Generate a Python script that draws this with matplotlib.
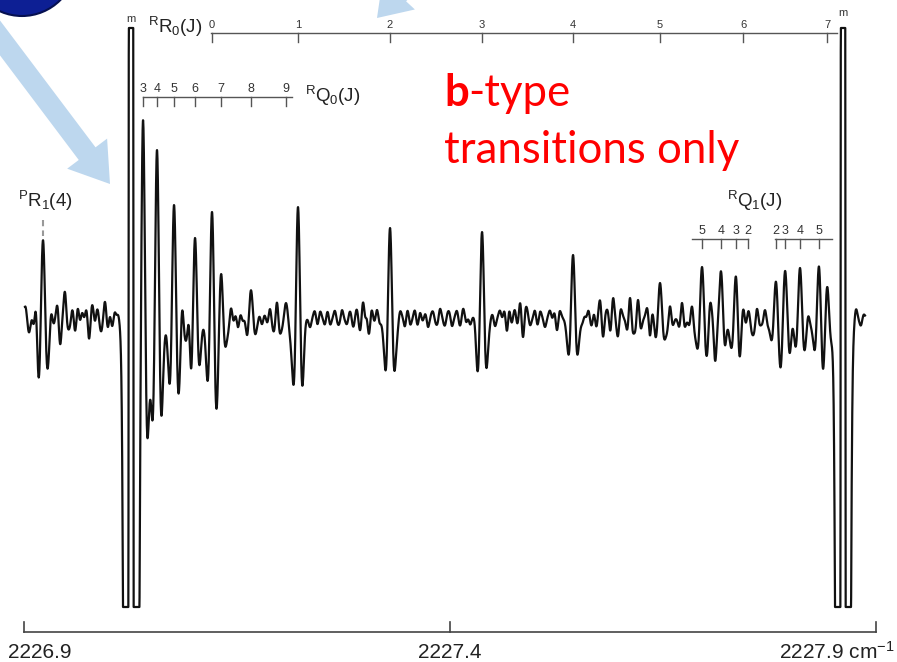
import numpy as np
import matplotlib
matplotlib.use("Agg")
import matplotlib.pyplot as plt
from matplotlib.patches import Polygon, Ellipse

plt.rcParams['font.family'] = ['Liberation Sans', 'DejaVu Sans']
plt.rcParams['mathtext.fontset'] = 'custom'
plt.rcParams['mathtext.rm'] = 'Liberation Sans'
plt.rcParams['mathtext.it'] = 'Liberation Sans:italic'

# ---------------- data (wavenumber in cm^-1, intensity in arb. units) ----------------
pr1_pos = [2226.9223]
pr1_amp = [78]

rq0_J = [3, 4, 5, 6, 7, 8, 9]
rq0_pos = [2227.0397, 2227.0561, 2227.0761, 2227.1007, 2227.1312, 2227.1664, 2227.2075]
rq0_amp = [200, 168, 113, 81, 48, 28, 15]

rr0_J = [0, 1, 2, 3, 4, 5, 6, 7]
rr0_pos = [2227.1207, 2227.2216, 2227.3296, 2227.4376, 2227.5444, 2227.6465, 2227.7439, 2227.8425]
rr0_amp = [108, 111, 90, 86, 63, 35, 31, 36]

rq1a_J = [5, 4, 3, 2]
rq1a_pos = [2227.6958, 2227.7181, 2227.7357, 2227.7498]
rq1a_amp = [51, 46, 48, 23]

rq1b_J = [2, 3, 4, 5]
rq1b_pos = [2227.7826, 2227.7932, 2227.8108, 2227.8331]
rq1b_amp = [38, 47, 50, 55]

# saturated lines marked "m"
m_pos = [2227.0256, 2227.8613]
m_amp = [3000, 3000]

# weaker unassigned features / baseline structure
minor_pos = [2226.9012, 2226.9059, 2226.9106, 2226.9141, 2226.9317, 2226.9423, 2226.9481,
             2226.9540, 2226.9599, 2226.9634, 2226.9681, 2226.9763, 2226.9810, 2226.9857,
             2226.9904, 2226.9951, 2226.9986, 2227.0033, 2227.0068, 2227.0103,
             2227.0854, 2227.0937, 2227.1430, 2227.1512, 2227.1594, 2227.1793, 2227.1887,
             2227.1969, 2227.2298, 2227.2357, 2227.2415, 2227.2474, 2227.2533, 2227.2592,
             2227.2650, 2227.2732, 2227.2791, 2227.2862, 2227.2908, 2227.2979, 2227.3049,
             2227.3143, 2227.3413, 2227.3472, 2227.3531, 2227.3589, 2227.3648, 2227.3742,
             2227.3800, 2227.3883, 2227.3941, 2227.4023, 2227.4082, 2227.4153, 2227.4199,
             2227.4235, 2227.4293, 2227.4528, 2227.4587, 2227.4669, 2227.4716, 2227.4763,
             2227.4822, 2227.4857, 2227.4939, 2227.4998, 2227.5056, 2227.5115, 2227.5174,
             2227.5256, 2227.5584, 2227.5620, 2227.5667, 2227.5714, 2227.5761, 2227.5796,
             2227.5854, 2227.5913, 2227.5972, 2227.6113, 2227.6207, 2227.6347, 2227.6582,
             2227.6723, 2227.6840, 2227.7051, 2227.7110, 2227.7251, 2227.7603, 2227.7697,
             2227.7991, 2227.8202, 2227.8765, 2227.8824]
minor_amp = [8, -8, 7, 25, 10, -22, 21,
             -6, -10, 6, 7, -18, 6, 8,
             -6, 10, -6, -7, 5, 6,
             18, 21, 10, -9, 6, -6, 9,
             16, 6, -7, 6, 6, -6, -6,
             6, 7, -5, -6, 6, 15, -15,
             8, 6, -8, -6, 7, 6, -8,
             5, 8, -6, -7, 6, 7, -5,
             -8, 6, -7, 6, -15, -6, 6,
             7, -15, -6, 7, 6, -7, 6,
             -12, 6, 8, -6, -8, 6, -14,
             6, 18, -15, 20, 18, -17, 12,
             15, 12, 15, -22, 6, 10, 8,
             -8, 6, 8, -6]

line_width_main = 0.0031
line_width_minor = 0.0021

ticks_nu = [2226.9, 2227.4, 2227.9]
tick_labels = ['2226.9', '2227.4', '2227.9 cm$^{-1}$']

clip_hi, clip_lo = 290, -289

# ---------------- layout helpers (pixel -> data) ----------------
W, H = 897, 662
def X(px):
    return 2226.9 + (px - 24) / 852.0
def Y(py):
    return 318 - py

fig = plt.figure(figsize=(W / 100, H / 100), dpi=100)
ax = fig.add_axes([0, 0, 1, 1])
ax.set_xlim(X(0), X(W))
ax.set_ylim(Y(H), Y(0))
ax.axis('off')

# ---------------- slide decorations ----------------
def F(px, py):
    return (px / W, 1 - py / H)

sphere = Ellipse(F(22, -38), 2 * 54 / W, 2 * 54 / H, transform=fig.transFigure,
                 facecolor='#0d1f94', edgecolor='#061050', lw=1.5, zorder=0)
fig.add_artist(sphere)

def arrow_poly(tail, tip, shaft_w, head_w, head_len):
    tail = np.array(tail, float); tip = np.array(tip, float)
    d = tip - tail; d /= np.hypot(*d)
    n = np.array([d[1], -d[0]])
    neck = tip - d * head_len
    pts = [tail + n * shaft_w / 2, neck + n * shaft_w / 2, neck + n * head_w / 2, tip,
           neck - n * head_w / 2, neck - n * shaft_w / 2, tail - n * shaft_w / 2]
    return [F(*p) for p in pts]

fig.add_artist(Polygon(arrow_poly((-12, 22), (110, 184), 21, 50, 38), closed=True,
                       transform=fig.transFigure, facecolor='#bdd7ee', edgecolor='none', zorder=0))
fig.add_artist(Polygon(arrow_poly((440, -50), (377, 18), 20, 44, 32), closed=True,
                       transform=fig.transFigure, facecolor='#bdd7ee', edgecolor='none', zorder=0))

# ---------------- spectrum trace ----------------
def shape(u, k=1.2):
    return (1 - k * u ** 2) * np.exp(-u ** 2 / 2)

nu = np.linspace(X(25), X(865), 6000)
sig = np.zeros_like(nu)
for pos, amp in [(pr1_pos, pr1_amp), (rq0_pos, rq0_amp), (rr0_pos, rr0_amp),
                 (rq1a_pos, rq1a_amp), (rq1b_pos, rq1b_amp), (m_pos, m_amp)]:
    for c, a in zip(pos, amp):
        sig += a * shape((nu - c) / line_width_main)
for c, a in zip(minor_pos, minor_amp):
    sig += a * shape((nu - c) / line_width_minor)
sig = np.clip(sig, clip_lo, clip_hi)
ax.plot(nu, sig, color='#111111', lw=1.6, zorder=3, solid_joinstyle='round')

# "m" labels
ax.text(m_pos[0], Y(19), 'm', ha='center', va='center', fontsize=8, color='#333333')
ax.text(m_pos[1], Y(13), 'm', ha='center', va='center', fontsize=8, color='#333333')

# ---------------- assignment ladders ----------------
def ladder(pos, labels, y_line, ext_left, ext_right, fs=9):
    x0 = min(pos) - ext_left / 852.0
    x1 = max(pos) + ext_right / 852.0
    ax.plot([x0, x1], [Y(y_line), Y(y_line)], color='#555555', lw=1.0)
    for p, j in zip(pos, labels):
        ax.plot([p, p], [Y(y_line), Y(y_line + 9)], color='#555555', lw=1.0)
        ax.text(p, Y(y_line - 8), str(j), ha='center', va='center', fontsize=fs, color='#333333')

ladder(rr0_pos, rr0_J, 33, 1, 10, fs=8)
ladder(rq0_pos, rq0_J, 97, 0, 6)
ladder(rq1a_pos, rq1a_J, 239, 10, 0)
ladder(rq1b_pos, rq1b_J, 239, 1, 13)

ax.text(X(148), Y(33), r'$^{\mathrm{R}}\mathrm{R}_{0}\mathrm{(J)}$', ha='left', va='baseline',
        fontsize=13.5, color='#222222')
ax.text(X(305), Y(102), r'$^{\mathrm{R}}\mathrm{Q}_{0}\mathrm{(J)}$', ha='left', va='baseline',
        fontsize=13.5, color='#222222')
ax.text(X(727), Y(207), r'$^{\mathrm{R}}\mathrm{Q}_{1}\mathrm{(J)}$', ha='left', va='baseline',
        fontsize=13.5, color='#222222')
ax.text(X(18), Y(207), r'$^{\mathrm{P}}\mathrm{R}_{1}\mathrm{(4)}$', ha='left', va='baseline',
        fontsize=13.5, color='#222222')
ax.plot([pr1_pos[0], pr1_pos[0]], [Y(220), Y(236)], color='#999999', lw=1.5, ls=(0, (3, 2)))

# ---------------- bottom wavenumber scale ----------------
ax.plot([ticks_nu[0], ticks_nu[-1]], [Y(632), Y(632)], color='#444444', lw=1.2)
for t in ticks_nu:
    ax.plot([t, t], [Y(632), Y(622)], color='#444444', lw=1.2)
ax.text(ticks_nu[0] + 16 / 852, Y(652), tick_labels[0], ha='center', va='center', fontsize=15, color='#222222')
ax.text(ticks_nu[1], Y(652), tick_labels[1], ha='center', va='center', fontsize=15, color='#222222')
ax.text(X(895), Y(652), tick_labels[2], ha='right', va='center', fontsize=15, color='#222222')

# ---------------- red annotation ----------------
ax.text(X(444), Y(106), 'b', ha='left', va='baseline', fontsize=31.5, fontweight='bold',
        color='#ff0000', family='Lato')
ax.text(X(468), Y(106), '-type', ha='left', va='baseline', fontsize=31.5,
        color='#ff0000', family='Lato')
ax.text(X(444), Y(163), 'transitions only', ha='left', va='baseline', fontsize=31.5,
        color='#ff0000', family='Lato')

fig.savefig('out.png', dpi=100)
